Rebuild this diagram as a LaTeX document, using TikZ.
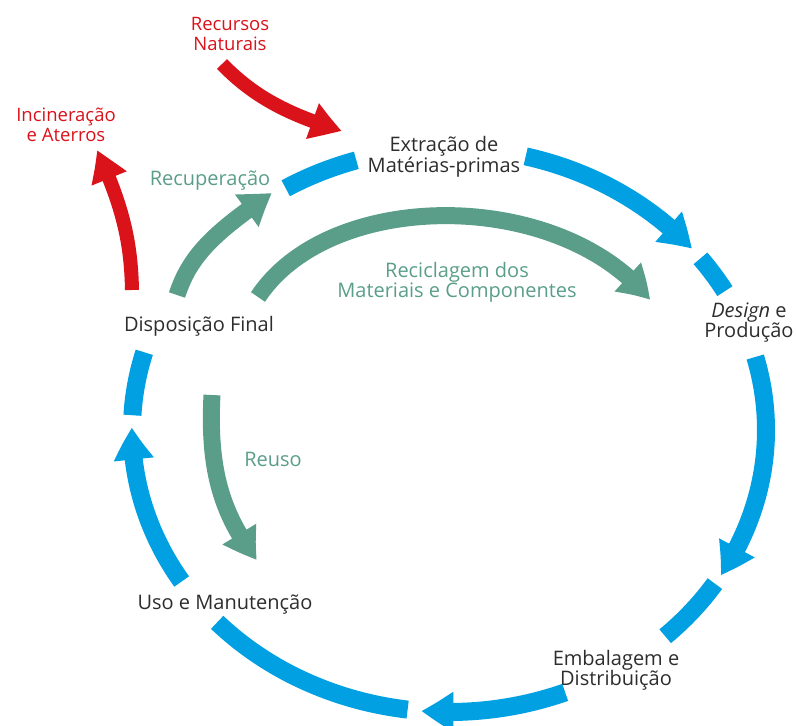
\documentclass[tikz,border=0pt]{standalone}
\usepackage{fontspec}
\setmainfont{Open Sans}
\usepackage{tikz}
\usetikzlibrary{arrows.meta, bending, calc}
\definecolor{azul}{RGB}{0,160,227}
\definecolor{verde}{RGB}{90,158,138}
\definecolor{vermelho}{RGB}{218,18,26}
\definecolor{escuro}{RGB}{45,45,45}
\tikzstyle{ciclo} = [azul, line width=18pt]
\tikzstyle{setaazul} = [-{Triangle[width=38pt,length=32pt,bend]}]
\tikzstyle{retorno} = [verde, line width=17pt, -{Triangle[width=37pt,length=32pt,bend]}]
\tikzstyle{externo} = [vermelho, line width=14pt, -{Triangle[width=35pt,length=32pt,bend]}]
\tikzstyle{rotulo} = [font=\fontsize{20}{20}\selectfont, align=center, inner sep=0pt]
\tikzstyle{rotulovermelho} = [font=\fontsize{18.5}{19.5}\selectfont, align=center, inner sep=0pt, text=vermelho]

\begin{document}
\begin{tikzpicture}[x=1pt,y=-1pt]
	\useasboundingbox (0,0) rectangle (796,726);
	
	% Centro do ciclo:
	\coordinate (centro) at (449,430);
	
	% Rotulos das etapas:
	\node [rotulo, text=escuro] (extracao) at (444,157) {Extração de\\Matérias-primas};
	\node [rotulo, text=escuro] (design) at (749,323) {\textit{Design} e\\Produção};
	\node [rotulo, text=escuro] (embalagem) at (616,670) {Embalagem e\\Distribuição};
	\node [rotulo, text=escuro] (uso) at (225,605) {Uso e Manutenção};
	\node [rotulo, text=escuro] (disposicao) at (199,326) {Disposição Final};
	
	% Rotulos das entradas e saidas:
	\node [rotulovermelho] (recursos) at (230,34) {Recursos\\Naturais};
	\node [rotulovermelho] (incineracao) at (66,125) {Incineração\\e Aterros};
	\node [rotulo, text=verde] (recuperacao) at (210,181) {Recuperação};
	\node [rotulo, text=verde] (reciclagem) at (457,282) {Reciclagem dos\\Materiais e Componentes};
	\node [rotulo, text=verde] (reuso) at (273,459) {Reuso};
	
	% Ciclo azul:
	% Trechos simples entre as setas
	\foreach \a/\b in {-121/-107, -37.5/-29.5, 33/47, 97.5/137, 183/196}
	{
		\draw [ciclo] (centro) ++(\a:317 and 282) arc [start angle=\a, end angle=\b, x radius=317, y radius=282];
	}
	% Setas
	\foreach \a/\b in {-76/-40, -15/31, 68.5/95, 147.5/180.5}
	{
		\draw [ciclo, setaazul] (centro) ++(\a:317 and 282) arc [start angle=\a, end angle=\b, x radius=317, y radius=282];
	}
	
	% Setas verdes:
	\coordinate (recup0) at (177,295);
	\coordinate (recup1) at (272,193);
	\coordinate (recic0) at (258,297);
	\coordinate (recic1) at (650,300);
	\coordinate (reuso0) at (212,395);
	\coordinate (reuso1) at (257,560);
	\draw [retorno] (recup0) .. controls (190,255) and (215,232) .. (recup1);
	\draw [retorno] (recic0) .. controls (330,188) and (560,188) .. (recic1);
	\draw [retorno] (reuso0) .. controls (208,470) and (222,515) .. (reuso1);
	
	% Setas vermelhas:
	\coordinate (natur0) at (222,64);
	\coordinate (natur1) at (342,131);
	\coordinate (incin0) at (132,290);
	\coordinate (incin1) at (97,150);
	\draw [externo] (natur0) .. controls (255,98) and (290,115) .. (natur1);
	\draw [externo] (incin0) .. controls (131,240) and (122,205) .. (incin1);
	
\end{tikzpicture}
\end{document}
